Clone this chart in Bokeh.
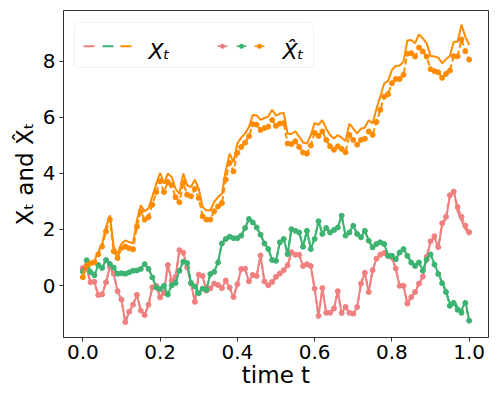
from bokeh.plotting import figure
from bokeh.models import Range1d, ColumnDataSource, Label, BoxAnnotation, FixedTicker, PrintfTickFormatter
from bokeh.embed import file_html
from bokeh.resources import INLINE

# ---- data -------------------------------------------------------------
t = [i / 100 for i in range(101)]

x_pink = [0.65, 0.62, 0.10, 0.14, -0.36, -0.31, 0.10, 0.68, 0.42, -0.21,
          -0.50, -1.31, -0.93, -0.69, -0.33, -0.90, -1.05, -0.69, -0.06, -0.02,
          -0.43, -0.26, 0.74, 0.18, 0.30, 1.27, 1.17, 0.65, 0.08, -0.59,
          0.39, 0.33, -0.19, -0.10, 0.06, 0.02, -0.10, 0.18, -0.08, -0.42,
          0.04, 0.59, 0.59, 0.14, 0.38, 0.33, 1.07, 0.14, 0.00, 0.12,
          0.30, 0.42, 0.54, 0.71, 1.19, 1.09, 1.09, 0.69, 0.75, 0.69,
          -0.12, -1.09, -0.10, -0.98, -0.98, -0.83, -0.21, -0.99, -0.77, -0.98,
          -1.01, -0.77, 0.06, 0.45, -0.24, 0.54, 0.95, 1.09, 1.15, 1.05,
          0.99, 0.60, -0.02, -0.02, -0.65, -0.42, -0.24, 0.06, 0.30, 1.01,
          1.55, 1.73, 1.33, 2.17, 2.38, 3.15, 3.42, 2.65, 2.32, 2.02, 1.79]
xh_pink = [0.62, 0.60, 0.12, 0.14, -0.34, -0.31, 0.12, 0.66, 0.42, -0.20,
           -0.50, -1.30, -0.93, -0.68, -0.33, -0.89, -1.05, -0.68, -0.06, -0.01,
           -0.42, -0.26, 0.73, 0.18, 0.31, 1.26, 1.17, 0.65, 0.09, -0.58,
           0.39, 0.34, -0.18, -0.10, 0.07, 0.02, -0.09, 0.18, -0.07, -0.41,
           0.05, 0.59, 0.60, 0.15, 0.38, 0.34, 1.07, 0.15, 0.01, 0.13,
           0.31, 0.43, 0.55, 0.72, 1.19, 1.10, 1.10, 0.70, 0.76, 0.70,
           -0.11, -1.08, -0.09, -0.97, -0.97, -0.82, -0.20, -0.98, -0.76, -0.97,
           -1.00, -0.76, 0.07, 0.46, -0.23, 0.55, 0.96, 1.10, 1.16, 1.06,
           1.00, 0.61, -0.01, -0.01, -0.64, -0.41, -0.23, 0.07, 0.32, 1.03,
           1.58, 1.76, 1.37, 2.22, 2.45, 3.22, 3.35, 2.80, 2.45, 2.14, 1.90]

x_green = [0.48, 0.92, 0.48, 0.36, 0.74, 0.63, 0.92, 0.77, 0.65, 0.42,
           0.45, 0.42, 0.48, 0.54, 0.54, 0.60, 0.77, 0.60, 0.30, -0.06,
           -0.12, 0.00, -0.32, 0.02, 0.10, 0.54, 0.86, 0.81, 0.10, -0.02,
           -0.26, -0.10, -0.14, 0.42, 0.50, 0.83, 1.51, 1.67, 1.75, 1.70,
           1.70, 1.79, 2.06, 2.38, 2.26, 2.08, 1.82, 1.51, 1.31, 0.92,
           0.89, 1.55, 1.67, 1.13, 2.02, 1.96, 1.90, 1.39, 1.96, 1.31,
           1.67, 2.30, 1.85, 2.06, 1.90, 1.99, 2.08, 2.50, 1.79, 1.90,
           2.14, 1.85, 1.73, 1.96, 1.61, 1.37, 1.49, 1.55, 1.49, 1.07,
           1.07, 0.95, 1.19, 1.31, 1.07, 0.83, 0.71, 0.83, 0.54, 0.95,
           1.13, 0.77, 0.44, 0.12, -0.18, -0.65, -0.54, -0.77, -0.89, -0.54, -1.25]
xh_green = [0.50, 0.90, 0.48, 0.37, 0.73, 0.63, 0.91, 0.77, 0.64, 0.42,
            0.44, 0.42, 0.47, 0.53, 0.54, 0.59, 0.76, 0.59, 0.29, -0.07,
            -0.12, -0.01, -0.32, 0.01, 0.09, 0.53, 0.85, 0.80, 0.09, -0.03,
            -0.27, -0.11, -0.15, 0.41, 0.49, 0.82, 1.50, 1.66, 1.74, 1.69,
            1.69, 1.78, 2.05, 2.37, 2.25, 2.07, 1.81, 1.50, 1.30, 0.91,
            0.88, 1.54, 1.66, 1.12, 2.01, 1.95, 1.89, 1.38, 1.95, 1.30,
            1.66, 2.29, 1.84, 2.05, 1.89, 1.98, 2.07, 2.49, 1.78, 1.89,
            2.13, 1.84, 1.72, 1.95, 1.60, 1.36, 1.48, 1.54, 1.48, 1.06,
            1.06, 0.94, 1.18, 1.30, 1.06, 0.82, 0.70, 0.82, 0.53, 0.93,
            1.11, 0.75, 0.41, 0.08, -0.23, -0.72, -0.62, -0.86, -0.97, -0.62, -1.25]

x_orange = [0.42, 0.77, 0.83, 0.89, 1.19, 1.49, 2.08, 2.50, 1.37, 1.13,
            1.49, 1.61, 1.55, 1.51, 2.32, 2.86, 2.65, 2.74, 3.18, 3.63,
            4.02, 3.63, 3.99, 3.87, 3.45, 3.27, 3.99, 3.57, 3.51, 3.77,
            3.45, 2.80, 2.68, 2.68, 2.98, 3.15, 3.27, 4.11, 4.70, 4.40,
            5.06, 5.27, 5.42, 5.65, 6.08, 6.06, 5.90, 5.97, 6.02, 6.26,
            6.05, 6.13, 6.15, 5.42, 5.40, 5.50, 5.30, 5.10, 5.06, 5.35,
            5.80, 5.73, 5.89, 5.59, 5.36, 5.24, 5.36, 5.27, 5.15, 5.77,
            5.59, 5.42, 5.59, 5.63, 5.89, 5.77, 6.30, 6.73, 7.20, 7.29,
            7.68, 7.83, 7.83, 7.98, 8.73, 8.75, 8.63, 8.95, 8.81, 8.63,
            8.18, 8.16, 8.12, 7.92, 8.06, 8.18, 8.69, 8.69, 9.29, 8.87, 8.57]
xh_orange = [0.30, 0.71, 0.79, 0.83, 1.11, 1.39, 1.93, 2.35, 1.22, 0.98,
             1.34, 1.39, 1.33, 1.29, 2.10, 2.64, 2.35, 2.44, 2.88, 3.33,
             3.72, 3.33, 3.69, 3.57, 3.15, 2.97, 3.66, 3.24, 3.18, 3.44,
             3.12, 2.47, 2.35, 2.35, 2.65, 2.82, 2.94, 3.78, 4.37, 4.07,
             4.73, 4.94, 5.09, 5.32, 5.75, 5.73, 5.54, 5.61, 5.66, 5.90,
             5.69, 5.77, 5.79, 5.06, 5.04, 5.14, 4.94, 4.74, 4.70, 4.99,
             5.44, 5.33, 5.49, 5.19, 4.96, 4.84, 4.96, 4.87, 4.75, 5.37,
             5.19, 5.02, 5.19, 5.23, 5.49, 5.37, 5.83, 6.26, 6.73, 6.82,
             7.21, 7.36, 7.36, 7.51, 8.26, 8.28, 8.16, 8.48, 8.34, 8.16,
             7.71, 7.64, 7.60, 7.40, 7.54, 7.66, 8.17, 8.17, 8.77, 8.35, 8.05]

colors = ["#F08080", "#3CB371", "#FF8C00"]
x_ticks = [0.0, 0.2, 0.4, 0.6, 0.8, 1.0]
y_ticks = [0, 2, 4, 6, 8]
x_label = "time t"
y_label = "Xₜ and X̂ₜ"
legend_labels = ["Xₜ", "X̂ₜ"]

# ---- figure -----------------------------------------------------------
FONT = "DejaVu Sans"
p = figure(width=498, height=399, output_backend="svg", toolbar_location=None,
           x_range=Range1d(-0.05, 1.05), y_range=Range1d(-1.85, 9.8),
           min_border_left=63, min_border_right=10, min_border_top=10, min_border_bottom=62)
p.background_fill_color = "white"
p.border_fill_color = "white"
p.grid.visible = False
p.outline_line_color = "#333333"
p.outline_line_width = 1

for ax in (p.xaxis, p.yaxis):
    ax.axis_line_color = "#333333"
    ax.major_tick_line_color = "#333333"
    ax.major_tick_out = 4
    ax.major_tick_in = 0
    ax.minor_tick_line_color = None
    ax.major_label_text_font = FONT
    ax.major_label_text_font_size = "20px"
    ax.major_label_text_color = "black"
    ax.axis_label_text_font = FONT
    ax.axis_label_text_font_size = "23px"
    ax.axis_label_text_font_style = "normal"
    ax.axis_label_text_color = "black"

p.xaxis.ticker = FixedTicker(ticks=x_ticks)
p.xaxis.formatter = PrintfTickFormatter(format="%.1f")
p.yaxis.ticker = FixedTicker(ticks=y_ticks)
p.xaxis.major_label_standoff = 3
p.xaxis.axis_label_standoff = 0
p.yaxis.major_label_standoff = 4
p.yaxis.axis_label_standoff = 2
p.xaxis.axis_label = x_label
p.yaxis.axis_label = y_label

src = ColumnDataSource(dict(t=t, xp=x_pink, hp=xh_pink, xg=x_green, hg=xh_green,
                            xo=x_orange, ho=xh_orange))
for col, xk, hk in zip(colors, ["xp", "xg", "xo"], ["hp", "hg", "ho"]):
    p.line("t", xk, source=src, line_color=col, line_width=2)
    p.line("t", hk, source=src, line_color=col, line_width=2, line_dash="6 3")
    p.scatter("t", hk, source=src, size=5, fill_color=col, line_color=col)

# ---- hand-made legend (screen units, frame-relative) ------------------
frame_h = 327
def fy(top_px):
    return frame_h - top_px

def sbox(l, r, t_, b, **kw):
    return BoxAnnotation(left=l, right=r, top=fy(t_), bottom=fy(b),
                         left_units="screen", right_units="screen",
                         top_units="screen", bottom_units="screen", level="overlay", **kw)

p.add_layout(sbox(11, 250, 12, 57, fill_color="white", fill_alpha=0.8,
                  line_color="#d0d0d0", line_width=1, border_radius=4))
seg_y = 35.7
for col, x0 in zip(colors, [20, 39, 57]):
    p.add_layout(sbox(x0, x0 + 11, seg_y - 1, seg_y + 1, fill_color=col, fill_alpha=1, line_color=None))
for col, x0 in zip(colors, [154, 173, 191]):
    p.add_layout(sbox(x0, x0 + 10, seg_y - 0.75, seg_y + 0.75, fill_color=col, fill_alpha=1, line_color=None))
    p.add_layout(sbox(x0 + 2.5, x0 + 7.5, seg_y - 2.5, seg_y + 2.5, fill_color=col, fill_alpha=1,
                      line_color=None, border_radius=3))
for txt, x0 in zip(legend_labels, [85, 219]):
    p.add_layout(Label(x=x0, y=fy(41), x_units="screen", y_units="screen", text=txt,
                       text_font=FONT, text_font_size="22px", text_font_style="italic",
                       text_baseline="alphabetic", text_color="black", level="overlay"))

open("out.html", "w").write(file_html(p, INLINE))
